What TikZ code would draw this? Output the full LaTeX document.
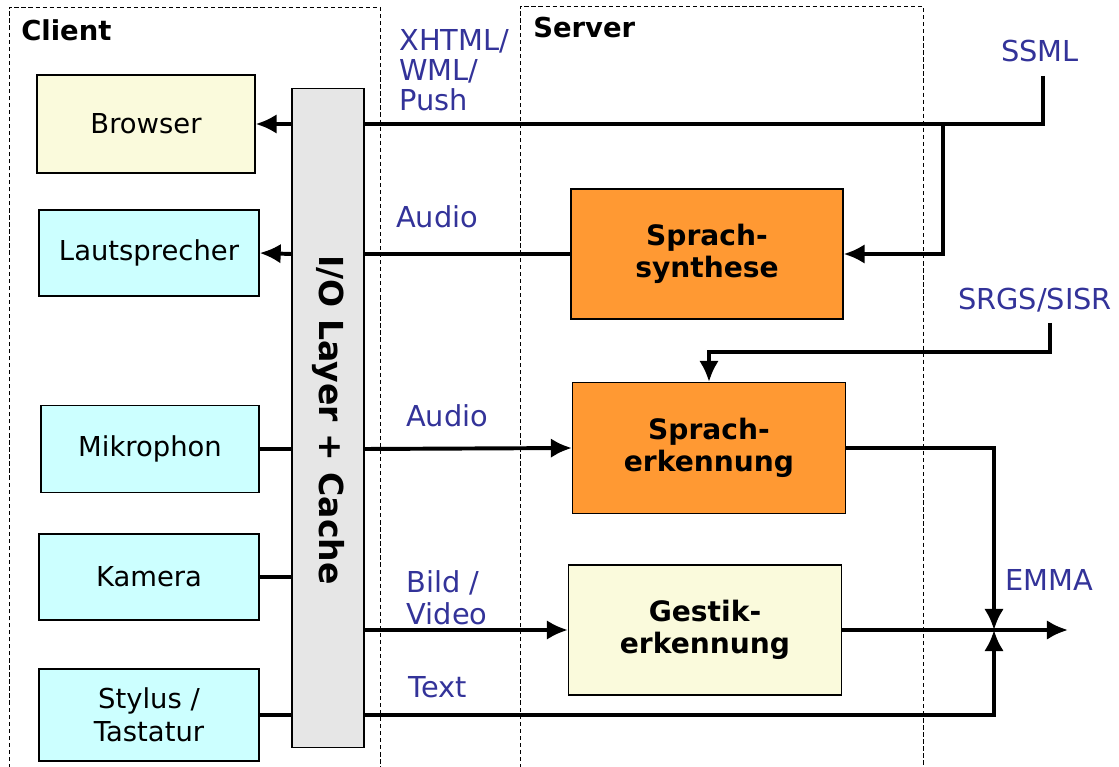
\documentclass[tikz,border=0pt]{standalone}
\usepackage{fontspec}
\setmainfont{DejaVu Sans}
\usetikzlibrary{arrows.meta}
\definecolor{hellgelb}{RGB}{250,250,220}
\definecolor{hellcyan}{RGB}{204,255,255}
\definecolor{hellgrau}{RGB}{230,230,230}
\definecolor{orange}{RGB}{255,153,51}
\definecolor{dunkelblau}{RGB}{51,51,153}
\newcommand{\bfnt}      {\fontsize{19.5}{23.5}\selectfont}
\newcommand{\lfnt}      {\fontsize{20.5}{21.5}\selectfont}

\begin{document}
\begin{tikzpicture}[x=0.025cm,y=-0.025cm,
    >={Latex[length=15pt,width=14pt]},
    box/.style={draw,line width=0.8pt,align=center,font=\bfnt,inner sep=0pt},
    bbox/.style={box,font=\fontsize{20}{23}\selectfont\bfseries},
    lbl/.style={text=dunkelblau,font=\lfnt,inner sep=0pt,align=left},
    con/.style={line width=2.8pt},
    frame/.style={line width=0.7pt,dash pattern=on 3pt off 2pt}]
  \useasboundingbox (0,0) rectangle (1119,767);
  % Client / Server
  \draw[frame] (9,775) -- (9,7) -- (380,7) -- (380,775);
  \draw[frame] (520,775) -- (520,6) -- (923,6) -- (923,775);
  \node[anchor=west,font=\bfnt\bfseries,inner sep=0pt] (client) at (21,30) {Client};
  \node[anchor=west,font=\bfnt\bfseries,inner sep=0pt] (server) at (533,28) {Server};
  % Geraete
  \node[box,fill=hellgelb,minimum width=5.45cm,minimum height=2.45cm] (browser) at (146,124) {Browser};
  \node[box,fill=hellcyan,minimum width=5.5cm,minimum height=2.15cm] (laut) at (149,253) {Lautsprecher};
  \node[box,fill=hellcyan,minimum width=5.45cm,minimum height=2.175cm] (mikro) at (150,449) {Mikrophon};
  \node[box,fill=hellcyan,minimum width=5.5cm,minimum height=2.15cm] (kamera) at (149,577) {Kamera};
  \node[box,fill=hellcyan,minimum width=5.5cm,minimum height=2.3cm] (stylus) at (149,715) {Stylus /\\Tastatur};
  \node[draw,line width=0.8pt,fill=hellgrau,minimum width=1.8cm,minimum height=16.475cm] (io) at (328,418) {};
  \node[rotate=-90,font=\fontsize{23.5}{27}\selectfont\bfseries] (iotext) at (328,420) {I/O Layer + Cache};
  % Server
  \node[bbox,fill=orange,minimum width=6.8cm,minimum height=3.25cm] (synth) at (707,254) {Sprach-\\synthese};
  \node[bbox,fill=orange,minimum width=6.825cm,minimum height=3.275cm] (erkenn) at (709,448) {Sprach-\\erkennung};
  \node[bbox,fill=hellgelb,minimum width=6.825cm,minimum height=3.25cm] (gestik) at (705,630) {Gestik-\\erkennung};
  % Beschriftungen
  \node[lbl,anchor=north west] (xhtml) at (399,29) {XHTML/\\WML/\\Push};
  \node[lbl] (ssml) at (1040,51) {SSML};
  \node[lbl] (audioa) at (437,217) {Audio};
  \node[lbl] (srgs) at (1035,300) {SRGS/SISR};
  \node[lbl] (audiob) at (447,416) {Audio};
  \node[lbl,font=\fontsize{20.5}{23}\selectfont] (bild) at (447,598) {Bild /\\Video};
  \node[lbl] (text) at (438,687) {Text};
  \node[lbl] (emma) at (1049,580) {EMMA};
  \coordinate (ssmlend) at (1043,76);
  \coordinate (branch) at (943,124);
  \coordinate (srgsend) at (1050,323);
  \coordinate (merge) at (994,630);
  \coordinate (emmaout) at (1068,630);
  % Verbindungen
  \draw[con,->] (io.west |- browser.east) -- (browser.east);
  \draw[con] (ssmlend) |- (io.east |- browser.east);
  \draw[con,->] (branch) |- (synth.east);
  \draw[con] (synth.west) -- (io.east |- synth.west);
  \draw[con,->] (io.west |- synth.west) -- (laut.east);
  \draw[con,->] (srgsend) -- ++(0,29) -| (erkenn.north);
  \draw[con] (mikro.east) -- (io.west |- mikro.east);
  \draw[con,->] (io.east |- mikro.east) -- (erkenn.west);
  \draw[con] (kamera.east) -- (io.west |- kamera.east);
  \draw[con,->] (io.east |- gestik.west) -- (gestik.west);
  \draw[con] (stylus.east) -- (io.west |- stylus.east);
  \draw[con,->] (io.east |- stylus.east) -| (merge);
  \draw[con,->] (erkenn.east) -| (merge);
  \draw[con,->] (gestik.east) -- (emmaout);
\end{tikzpicture}
\end{document}
